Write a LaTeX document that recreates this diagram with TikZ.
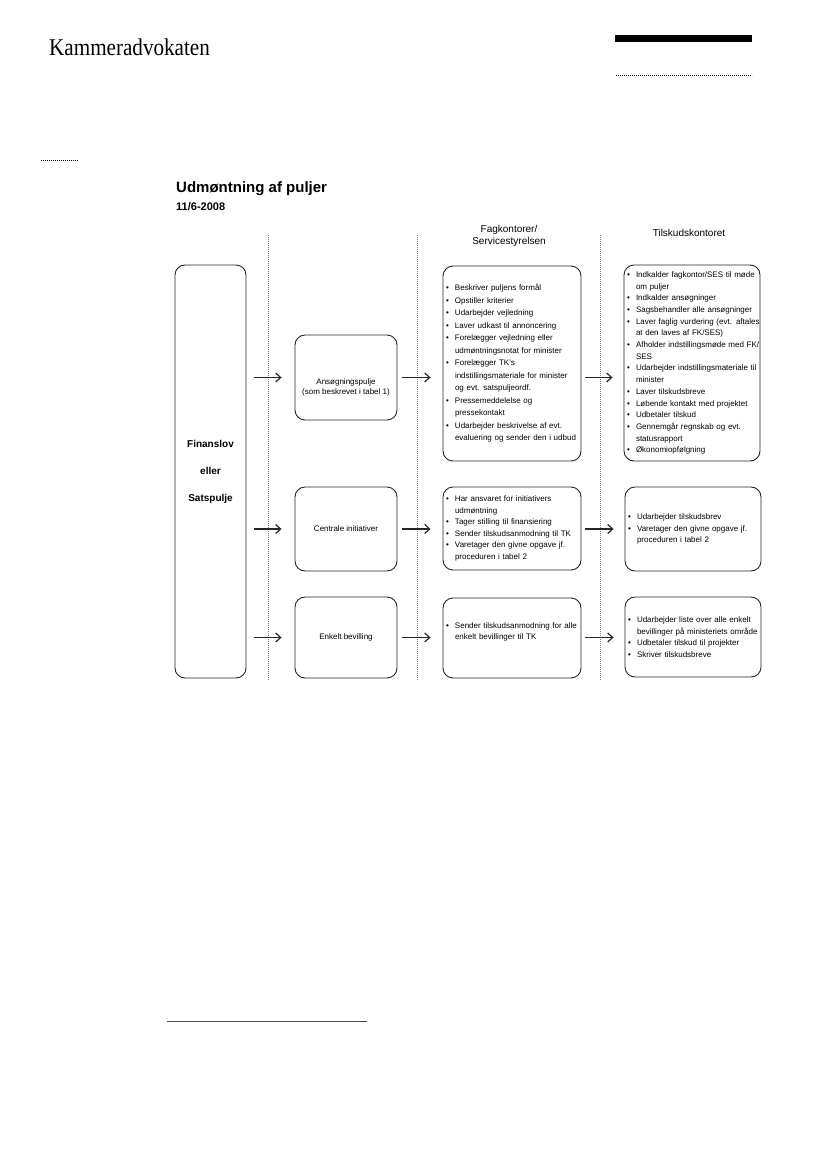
\documentclass[tikz,border=0pt]{standalone}
\usepackage{fontspec}
\setmainfont{Liberation Sans}
\newfontfamily\kammerfont[FakeStretch=0.88]{Liberation Serif}
\usetikzlibrary{arrows.meta}
\hyphenpenalty=10000
\exhyphenpenalty=10000
\newcommand\pkt{\hspace*{3pt}\makebox[9pt][l]{\textbullet}}
\newcommand\indryk{\hspace*{12pt}}
\begin{document}
\begin{tikzpicture}[x=1pt, y=-1pt, line join=round, >={Straight Barb[length=5pt,width=9pt]},
 box/.style={draw=black!85, line width=0.9pt, rounded corners=10pt},
 liste/.style={box, align=left, text width=138pt, inner xsep=0pt, inner ysep=0pt, font=\fontsize{8}{11.7}\selectfont},
 midt/.style={box, minimum width=102pt, font=\fontsize{8}{10}\selectfont, align=center},
 flow/.style={->, line width=1.2pt, black!85},
 lane/.style={gray, line width=0.6pt, dash pattern=on 0.7pt off 1.3pt}]
\useasboundingbox (0,0) rectangle (827,1169);
% brevhoved
\node[anchor=base west, inner sep=0pt, font=\kammerfont\fontsize{24}{26}\selectfont] (afsender) at (49,55.5) {Kammeradvokaten};
\fill (615,35) rectangle (752,42.5);
\draw[lane, black] (616,75) -- (752,75);
\draw[lane, black] (41,160.7) -- (78,160.7);
% titel og kolonner
\node[anchor=base west, inner sep=0pt, font=\fontsize{15}{18}\selectfont\bfseries] (titel) at (176,193) {Udmøntning af puljer};
\node[anchor=base west, inner sep=0pt, font=\fontsize{11}{13}\selectfont\bfseries] (dato) at (176,210) {11/6-2008};
\node[font=\fontsize{10}{11.5}\selectfont, align=center] (fagtitel) at (509,236) {Fagkontorer/\\Servicestyrelsen};
\node[font=\fontsize{10}{12}\selectfont] (tiltitel) at (689,233) {Tilskudskontoret};
\foreach \x in {268,417,600}{
 \draw[lane] (\x,235) -- (\x,680);}
% kasser
\node[box, minimum width=71pt, minimum height=413pt, align=center, font=\fontsize{10}{27}\selectfont\bfseries] (fin) at (210.5,471.5) {Finanslov\\eller\\Satspulje};
\node[midt, minimum height=85pt] (ans) at (346,377.5) {};
\node[font=\fontsize{8}{10}\selectfont, align=center] (anstekst) at ([yshift=-10pt]ans.center) {Ansøgningspulje\\(som beskrevet i tabel 1)};
\node[midt, minimum height=84pt] (cen) at (346,529) {Centrale initiativer};
\node[midt, minimum height=81pt] (enk) at (346,637.5) {Enkelt bevilling};
\node[liste, minimum height=195pt, font=\fontsize{8}{12.5}\selectfont] (fag1) at (512,363.5) {\pkt Beskriver puljens formål\\
 \pkt Opstiller kriterier\\
 \pkt Udarbejder vejledning\\
 \pkt Laver udkast til annoncering\\
 \pkt Forelægger vejledning eller\\
 \indryk udmøntningsnotat for minister\\
 \pkt Forelægger TK's\\
 \indryk indstillingsmateriale for minister\\
 \indryk og evt. satspuljeordf.\\
 \pkt Pressemeddelelse og\\
 \indryk pressekontakt\\
 \pkt Udarbejder beskrivelse af evt.\\
 \indryk evaluering og sender den i udbud};
\node[liste, minimum height=83pt, font=\fontsize{8}{11.5}\selectfont] (fag2) at (512,528.5) {\pkt Har ansvaret for initiativers\\
 \indryk udmøntning\\
 \pkt Tager stilling til finansiering\\
 \pkt Sender tilskudsanmodning til TK\\
 \pkt Varetager den givne opgave jf.\\
 \indryk proceduren i tabel 2};
\node[liste, minimum height=80pt, font=\fontsize{8}{11}\selectfont] (fag3) at (512,638) {\pkt Sender tilskudsanmodning for alle\\
 \indryk enkelt bevillinger til TK\\[3pt]\mbox{}};
\node[liste, text width=136pt, minimum height=196pt] (til1) at (692,363) {\pkt Indkalder fagkontor/SES til møde\\
 \indryk om puljer\\
 \pkt Indkalder ansøgninger\\
 \pkt Sagsbehandler alle ansøgninger\\
 \pkt Laver faglig vurdering (evt. aftales\\
 \indryk at den laves af FK/SES)\\
 \pkt Afholder indstillingsmøde med FK/\\
 \indryk SES\\
 \pkt Udarbejder indstillingsmateriale til\\
 \indryk minister\\
 \pkt Laver tilskudsbreve\\
 \pkt Løbende kontakt med projektet\\
 \pkt Udbetaler tilskud\\
 \pkt Gennemgår regnskab og evt.\\
 \indryk statusrapport\\
 \pkt Økonomiopfølgning};
\node[liste, text width=136pt, minimum height=84pt] (til2) at (693,529) {\pkt Udarbejder tilskudsbrev\\
 \pkt Varetager den givne opgave jf.\\
 \indryk proceduren i tabel 2};
\node[liste, text width=136pt, minimum height=80pt] (til3) at (693,637) {\pkt Udarbejder liste over alle enkelt\\
 \indryk bevillinger på ministeriets område\\
 \pkt Udbetaler tilskud til projekter\\
 \pkt Skriver tilskudsbreve};
% pile
\foreach \m/\f/\t in {ans/fag1/til1, cen/fag2/til2, enk/fag3/til3}{
 \draw[flow, shorten <=8pt, shorten >=13pt] (fin.east |- \m.west) -- (\m.west);
 \draw[flow, shorten <=5pt, shorten >=12pt] (\m.east) -- (\m.east -| \f.west);
 \draw[flow, shorten <=4pt, shorten >=11pt] (\f.east |- \m.east) -- (\t.west |- \m.east);}
% fodnotestreg
\draw[black!70, line width=0.9pt] (167,1021.5) -- (367,1021.5);
\end{tikzpicture}
\end{document}
